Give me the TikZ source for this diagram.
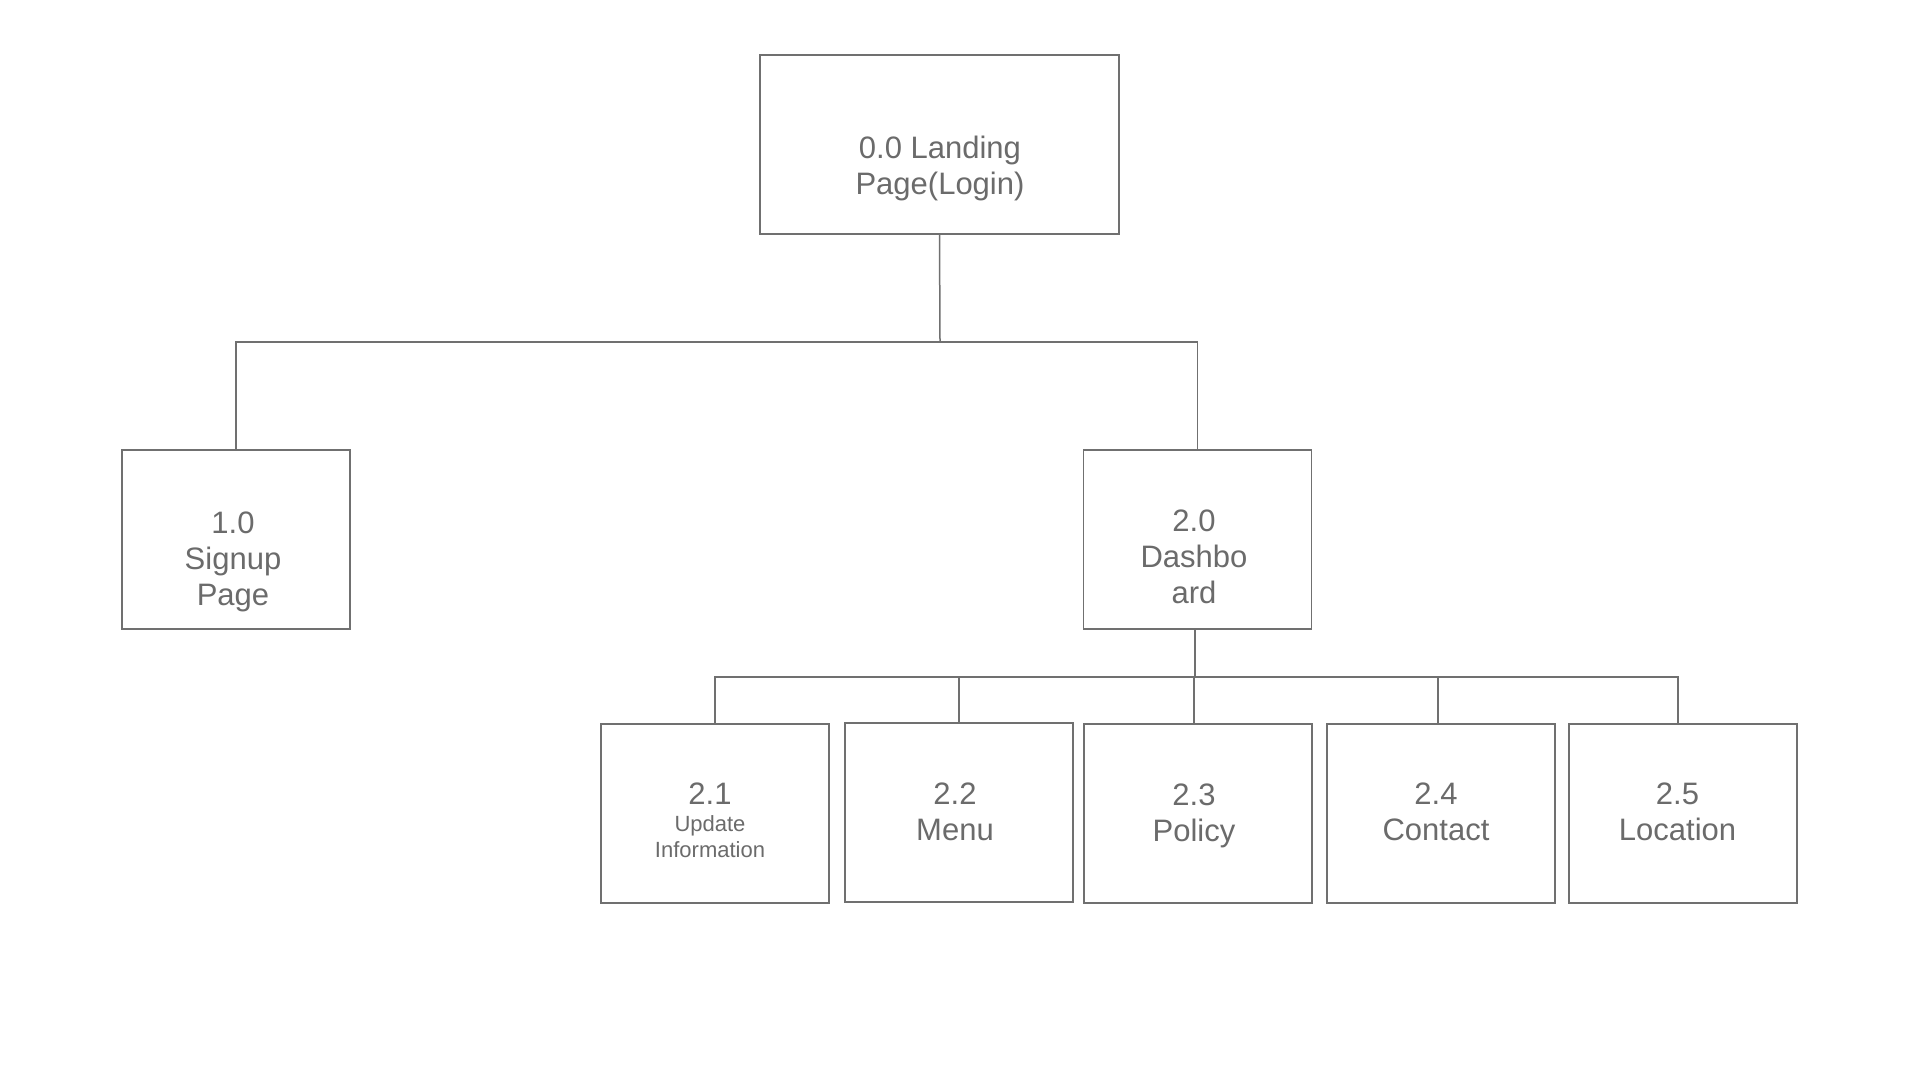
\documentclass[tikz,border=0pt]{standalone}
\usepackage{fontspec}
\setmainfont{Liberation Sans}
\definecolor{linegray}{HTML}{707070}
\definecolor{textgray}{HTML}{6B6B6B}
\tikzset{
  box/.style={draw=linegray, line width=0.75pt, inner sep=0pt, minimum width=114pt, minimum height=89.5pt},
  lbl/.style={text=textgray, align=center, inner sep=0pt, font=\fontsize{15.5}{18}\selectfont},
  conn/.style={draw=linegray, line width=0.75pt}
}
\begin{document}
\begin{tikzpicture}[x=0.5pt,y=-0.5pt]
\useasboundingbox[fill=white] (0,0) rectangle (1920,1080);
% boxes
\node[box, minimum width=179.5pt] (land) at (939.5,144.5) {};
\node[box] (sign) at (236,539.5) {};
\node[box] (dash) at (1197.5,539.5) {};
\node[box] (b21) at (715,813.5) {};
\node[box] (b22) at (959,812.5) {};
\node[box] (b23) at (1198,813.5) {};
\node[box] (b24) at (1441,813.5) {};
\node[box] (b25) at (1683,813.5) {};
% labels
\node[lbl] (t0) at (940,168) {0.0 Landing\\Page(Login)};
\node[lbl] (t1) at (233,561.5) {1.0\\Signup\\Page};
\node[lbl] (t2) at (1194,557) {2.0\\Dashbo\\ard};
\node[lbl] (t21) at (710,820.5) {2.1\\[-4.5pt]{\fontsize{11}{13}\selectfont Update}\\[-5pt]{\fontsize{11}{13}\selectfont Information}};
\node[lbl] (t22) at (955,812) {2.2\\Menu};
\node[lbl] (t23) at (1194,816) {2.3\\Policy};
\node[lbl] (t24) at (1436,812) {2.4\\Contact};
\node[lbl] (t25) at (1677.5,812) {2.5\\Location};
% connectors
\coordinate (j1) at (940,342);
\coordinate (j2) at (1195,677);
\coordinate (c23) at (1194,677);
\coordinate (c24) at (1438,677);
\coordinate (c25) at (1678,677);
\draw[conn] (land.south) -- (j1);
\draw[conn] (sign.north) |- (j1) -| (dash.north);
\draw[conn] (j2 |- dash.south) -- (j2);
\draw[conn] (b21.north) |- (c25) -- (c25 |- b25.north);
\draw[conn] (b22.north) -- (b22.north |- j2);
\draw[conn] (c23) -- (c23 |- b23.north);
\draw[conn] (c24) -- (c24 |- b24.north);
\end{tikzpicture}
\end{document}
